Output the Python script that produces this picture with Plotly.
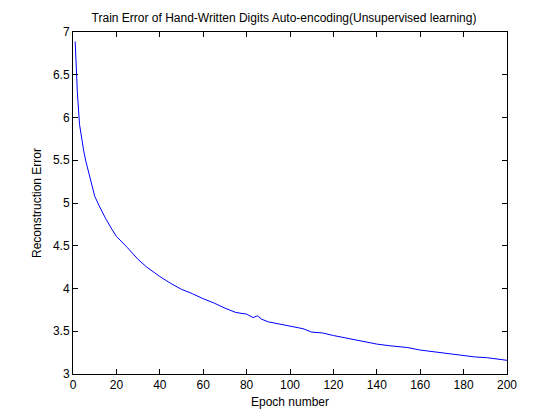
import plotly.graph_objects as go

epochs = [1, 2, 3, 4, 5, 6, 8, 10, 12, 15, 18, 20, 25, 30, 34, 40, 45, 50, 55, 60,
          65, 70, 75, 80, 83, 85, 87, 90, 95, 100, 106, 110, 115, 120, 126, 132,
          140, 146, 154, 160, 166, 172, 178, 185, 191, 197, 200]
errors = [6.89, 6.30, 5.92, 5.74, 5.60, 5.48, 5.29, 5.08, 4.97, 4.82, 4.69, 4.61,
          4.48, 4.34, 4.25, 4.14, 4.06, 3.99, 3.94, 3.88, 3.83, 3.77, 3.72, 3.70,
          3.66, 3.68, 3.64, 3.61, 3.585, 3.56, 3.53, 3.49, 3.48, 3.45, 3.42, 3.39,
          3.35, 3.33, 3.31, 3.28, 3.26, 3.24, 3.22, 3.20, 3.19, 3.17, 3.16]

x_ticks = [0, 20, 40, 60, 80, 100, 120, 140, 160, 180, 200]
y_ticks = [3, 3.5, 4, 4.5, 5, 5.5, 6, 6.5, 7]
y_tick_labels = ["3", "3.5", "4", "4.5", "5", "5.5", "6", "6.5", "7"]

fig = go.Figure()
fig.add_trace(go.Scatter(x=epochs, y=errors, mode="lines",
                         line=dict(color="#0000ff", width=1), showlegend=False))

font = dict(family="Liberation Sans, Arial, sans-serif", size=12, color="black")
fig.update_layout(
    width=552, height=412,
    margin=dict(l=65, r=53, t=24, b=46),
    paper_bgcolor="white", plot_bgcolor="white",
    font=font,
    title=dict(text="Train Error of Hand-Written Digits Auto-encoding(Unsupervised learning)",
               x=0.5, xanchor="center", y=1 - 10/412, yanchor="middle",
               font=dict(family="Liberation Sans, Arial, sans-serif", size=12, color="black")),
)
fig.update_xaxes(range=[0, 200], tickvals=x_ticks, ticks="inside", ticklen=5,
                 tickcolor="black", showline=True, linecolor="black", linewidth=1,
                 mirror="ticks", showgrid=False, zeroline=False,
                 title=dict(text="Epoch number", standoff=6, font=font))
fig.update_yaxes(range=[3, 7], tickvals=y_ticks, ticktext=y_tick_labels,
                 ticks="inside", ticklen=5, tickcolor="black", showline=True,
                 linecolor="black", linewidth=1, mirror="ticks", showgrid=False,
                 zeroline=False, title=dict(text="Reconstruction Error", standoff=8, font=font))

fig.write_html("out.html")
